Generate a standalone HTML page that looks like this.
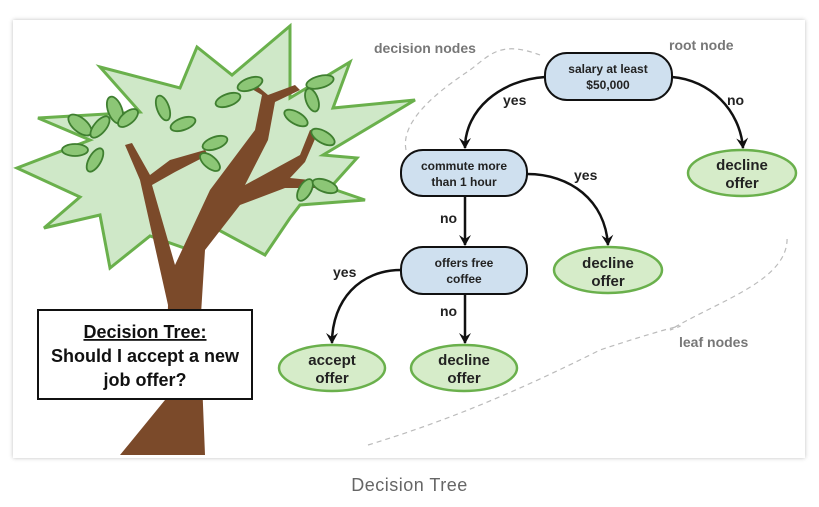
<!DOCTYPE html>
<html><head><style>
body{margin:0;background:#fff;width:819px;height:507px;overflow:hidden;font-family:"Liberation Sans",sans-serif}
.card{position:absolute;left:13px;top:20px;width:792px;height:438px;background:#fff;box-shadow:0 0 4px rgba(0,0,0,.25)}
.cap{position:absolute;left:0;width:819px;top:475px;text-align:center;color:#666;font-size:18px;letter-spacing:.5px}
</style></head><body>
<div class="card"></div>
<svg width="819" height="507" style="position:absolute;left:0;top:0" font-family="Liberation Sans, sans-serif" font-weight="bold">
<defs><marker id="a" markerWidth="12" markerHeight="12" refX="10" refY="6" orient="auto" markerUnits="userSpaceOnUse"><path d="M0,0 L11,6 L0,12 L4,6 Z" fill="#111"/></marker></defs>
<!-- foliage -->
<polygon points="17,168 80,197 44,228 100,215 110,268 150,236 190,250 215,228 265,255 290,218 300,205 365,200 330,188 357,158 323,155 415,100 333,108 350,62 290,98 290,26 232,75 197,47 180,88 100,67 140,112 38,118 90,140" fill="#cfe8c8" stroke="#6ab04c" stroke-width="3" stroke-linejoin="miter"/>
<!-- trunk -->
<path d="M120,455 L165,400 L168,305 L140,180 L125,145 L132,143 L150,175 L170,160 L205,150 L208,155 L175,172 L152,185 L175,265 L210,190 L255,130 L262,95 L245,85 L250,80 L268,95 L295,85 L300,90 L275,102 L268,140 L245,185 L300,155 L310,130 L318,132 L305,162 L290,178 L330,182 L328,188 L285,188 L240,205 L205,250 L200,330 L205,455 Z" fill="#7b4a2a"/>
<g fill="#8cc676" stroke="#3f7f30" stroke-width="1.8">
<ellipse cx="80" cy="125" rx="14" ry="7" transform="rotate(40 80 125)"/><ellipse cx="100" cy="127" rx="13" ry="6" transform="rotate(-50 100 127)"/>
<ellipse cx="75" cy="150" rx="13" ry="6"/><ellipse cx="95" cy="160" rx="13" ry="6" transform="rotate(-60 95 160)"/>
<ellipse cx="115" cy="110" rx="14" ry="7" transform="rotate(70 115 110)"/><ellipse cx="128" cy="118" rx="12" ry="6" transform="rotate(-40 128 118)"/>
<ellipse cx="163" cy="108" rx="13" ry="6" transform="rotate(70 163 108)"/><ellipse cx="183" cy="124" rx="13" ry="6" transform="rotate(-20 183 124)"/>
<ellipse cx="215" cy="143" rx="13" ry="6" transform="rotate(-20 215 143)"/><ellipse cx="210" cy="162" rx="12" ry="6" transform="rotate(40 210 162)"/>
<ellipse cx="228" cy="100" rx="13" ry="6" transform="rotate(-20 228 100)"/><ellipse cx="250" cy="84" rx="13" ry="6" transform="rotate(-20 250 84)"/>
<ellipse cx="320" cy="82" rx="14" ry="6" transform="rotate(-15 320 82)"/><ellipse cx="312" cy="100" rx="12" ry="6" transform="rotate(70 312 100)"/>
<ellipse cx="296" cy="118" rx="13" ry="6" transform="rotate(30 296 118)"/><ellipse cx="323" cy="137" rx="13" ry="6" transform="rotate(30 323 137)"/>
<ellipse cx="305" cy="190" rx="12" ry="6" transform="rotate(-60 305 190)"/><ellipse cx="325" cy="186" rx="13" ry="6" transform="rotate(20 325 186)"/>
</g>
<rect x="38" y="310" width="214" height="89" fill="#fff" stroke="#111" stroke-width="2"/>
<text x="145" y="338" text-anchor="middle" font-size="18" text-decoration="underline" fill="#111">Decision Tree:</text>
<text x="145" y="362" text-anchor="middle" font-size="18" fill="#111">Should I accept a new</text>
<text x="145" y="386" text-anchor="middle" font-size="18" fill="#111">job offer?</text>
<!-- dashed outlines -->
<g fill="none" stroke="#bbb" stroke-width="1.2" stroke-dasharray="5,4">
<path d="M406,150 C400,120 440,90 470,70 C490,55 500,40 540,55"/>
<path d="M368,445 C450,420 520,390 600,350 C660,330 700,320 670,330 C720,300 790,280 787,236"/>
</g>
<g font-size="14" fill="#777"><text x="374" y="53">decision nodes</text><text x="669" y="50">root node</text><text x="679" y="347">leaf nodes</text></g>
<!-- edges -->
<g fill="none" stroke="#111" stroke-width="2.5" marker-end="url(#a)">
<path d="M545,77 C500,80 465,110 465,148"/>
<path d="M672,77 C710,80 740,110 743,148"/>
<path d="M527,174 C570,174 605,200 608,245"/>
<path d="M465,196 L465,245"/>
<path d="M465,294 L465,343"/>
<path d="M401,270 C360,270 332,300 332,343"/>
</g>
<g fill="#cfe0ef" stroke="#111" stroke-width="2">
<rect x="545" y="53" width="127" height="47" rx="22"/>
<rect x="401" y="150" width="126" height="46" rx="22"/>
<rect x="401" y="247" width="126" height="47" rx="22"/>
</g>
<g fill="#d6ecc9" stroke="#6ab04c" stroke-width="2.5">
<ellipse cx="742" cy="173" rx="54" ry="23"/><ellipse cx="608" cy="270" rx="54" ry="23"/>
<ellipse cx="464" cy="368" rx="53" ry="23"/><ellipse cx="332" cy="368" rx="53" ry="23"/>
</g>
<g font-size="12" text-anchor="middle" fill="#222">
<text x="608" y="73">salary at least</text><text x="608" y="89">$50,000</text>
<text x="464" y="170">commute more</text><text x="464" y="186">than 1 hour</text>
<text x="464" y="267">offers free</text><text x="464" y="283">coffee</text>
</g>
<g font-size="15" text-anchor="middle" fill="#222">
<text x="742" y="170">decline</text><text x="742" y="188">offer</text>
<text x="608" y="268">decline</text><text x="608" y="286">offer</text>
<text x="464" y="365">decline</text><text x="464" y="383">offer</text>
<text x="332" y="365">accept</text><text x="332" y="383">offer</text>
</g>
<g font-size="14" fill="#222">
<text x="503" y="105">yes</text><text x="727" y="105">no</text><text x="574" y="180">yes</text>
<text x="440" y="223">no</text><text x="440" y="316">no</text><text x="333" y="277">yes</text>
</g>
</svg>
<div class="cap">Decision Tree</div>
</body></html>
